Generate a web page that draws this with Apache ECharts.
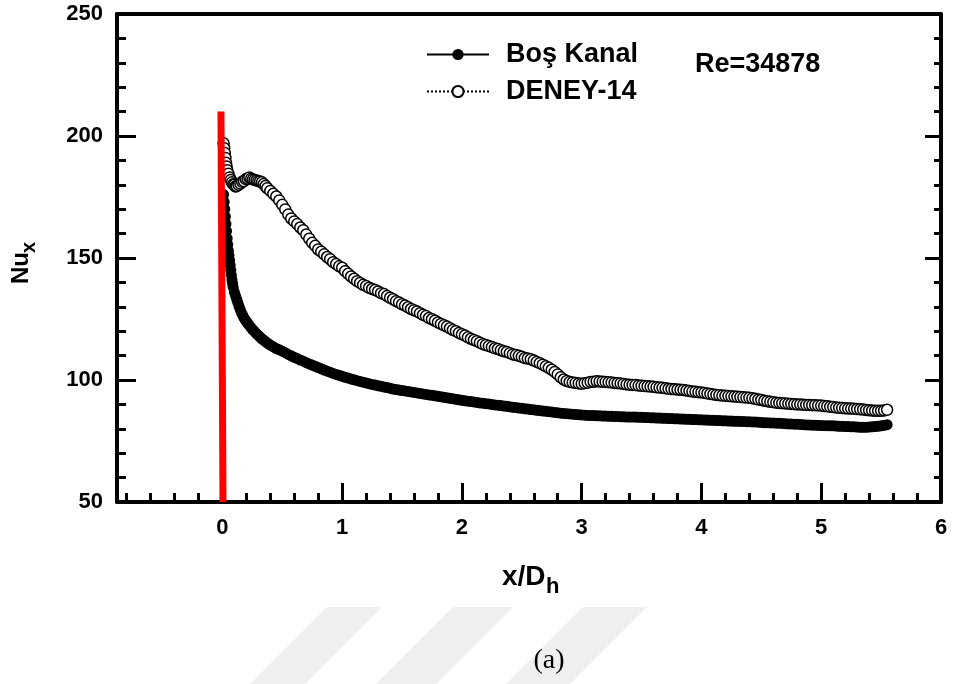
<!DOCTYPE html>
<html>
<head>
<meta charset="utf-8">
<script src="https://cdn.jsdelivr.net/npm/echarts@6/dist/echarts.min.js"></script>
<style>
html,body{margin:0;padding:0;background:#fff;}
#chart{width:954px;height:684px;}
</style>
</head>
<body>
<div id="chart"></div>
<script>
// ---- Data ----
var seriesNames = ['Boş Kanal', 'DENEY-14'];
var xTickValues = [0, 1, 2, 3, 4, 5, 6];
var xMinorTickValues = [-0.8, -0.6, -0.4, -0.2, 0.2, 0.4, 0.6, 0.8, 1.2, 1.4, 1.6, 1.8, 2.2, 2.4, 2.6, 2.8,
  3.2, 3.4, 3.6, 3.8, 4.2, 4.4, 4.6, 4.8, 5.2, 5.4, 5.6, 5.8];
var yTickValues = [50, 100, 150, 200, 250];

// [x/Dh, Nu_x] pairs
var bosKanal = [
  [0.01,176],[0.015,173],[0.02,170],[0.025,167],[0.03,164],[0.035,161],[0.04,158],[0.045,155.5],[0.05,153],
  [0.055,151],[0.06,149],[0.065,147],[0.07,145],[0.075,143],[0.08,141],[0.085,139.5],[0.09,138],[0.10,136],
  [0.11,134.5],[0.12,133],[0.13,131.5],[0.14,130],[0.15,128.7],[0.16,127.5],[0.17,126.5],[0.18,125.5],[0.19,124.7],
  [0.20,124],[0.21,123.3],[0.22,122.7],[0.235,121.7],[0.25,120.8],[0.265,120],[0.28,119.2],[0.295,118.5],[0.31,117.8],
  [0.325,117.1],[0.34,116.5],[0.355,115.9],[0.37,115.3],[0.385,114.8],[0.40,114.3],[0.425,113.6],[0.45,112.9],
  [0.475,112.4],[0.50,111.8],[0.525,111.2],[0.55,110.5],[0.575,109.9],[0.60,109.3],[0.625,108.8],[0.65,108.2],
  [0.675,107.7],[0.70,107.1],[0.725,106.6],[0.75,106.1],[0.775,105.6],[0.80,105.1],[0.825,104.6],[0.85,104.1],
  [0.875,103.6],[0.90,103.2],[0.925,102.7],[0.95,102.3],[0.975,101.9],[1.00,101.5],[1.025,101.1],[1.05,100.8],
  [1.075,100.4],[1.10,100.1],[1.125,99.7],[1.15,99.4],[1.175,99.1],[1.20,98.8],[1.225,98.5],[1.25,98.2],[1.275,97.9],
  [1.30,97.6],[1.325,97.4],[1.35,97.1],[1.375,96.9],[1.40,96.6],[1.425,96.3],[1.45,96.1],[1.475,95.9],[1.50,95.7],
  [1.525,95.5],[1.55,95.3],[1.575,95.1],[1.60,94.9],[1.625,94.7],[1.65,94.5],[1.675,94.3],[1.70,94.1],[1.725,93.9],
  [1.75,93.7],[1.775,93.5],[1.80,93.3],[1.825,93.1],[1.85,92.9],[1.875,92.7],[1.90,92.5],[1.925,92.3],[1.95,92.1],
  [1.975,91.9],[2.00,91.7],[2.025,91.5],[2.05,91.3],[2.075,91.2],[2.10,91.0],[2.125,90.8],[2.15,90.6],[2.175,90.5],
  [2.20,90.3],[2.225,90.2],[2.25,90.0],[2.275,89.8],[2.30,89.7],[2.325,89.5],[2.35,89.3],[2.375,89.2],[2.40,89.0],
  [2.425,88.8],[2.45,88.7],[2.475,88.5],[2.50,88.4],[2.525,88.2],[2.55,88.1],[2.575,87.9],[2.60,87.8],[2.625,87.6],
  [2.65,87.5],[2.675,87.3],[2.70,87.2],[2.725,87.0],[2.75,86.9],[2.775,86.7],[2.80,86.6],[2.825,86.4],[2.85,86.3],
  [2.875,86.2],[2.90,86.1],[2.925,86.0],[2.95,85.9],[2.975,85.8],[3.00,85.7],[3.025,85.6],[3.05,85.5],[3.075,85.5],
  [3.10,85.4],[3.125,85.3],[3.15,85.3],[3.175,85.2],[3.20,85.2],[3.225,85.1],[3.25,85.1],[3.275,85.0],[3.30,85.0],
  [3.325,84.9],[3.35,84.9],[3.375,84.8],[3.40,84.8],[3.425,84.8],[3.45,84.8],[3.475,84.7],[3.50,84.7],[3.525,84.6],
  [3.55,84.6],[3.575,84.5],[3.60,84.5],[3.625,84.4],[3.65,84.4],[3.675,84.3],[3.70,84.3],[3.725,84.2],[3.75,84.2],
  [3.775,84.1],[3.80,84.1],[3.825,84.0],[3.85,84.0],[3.875,83.9],[3.90,83.9],[3.925,83.8],[3.95,83.8],[3.975,83.7],
  [4.00,83.7],[4.025,83.6],[4.05,83.6],[4.075,83.5],[4.10,83.5],[4.125,83.4],[4.15,83.4],[4.175,83.3],[4.20,83.3],
  [4.225,83.2],[4.25,83.2],[4.275,83.1],[4.30,83.1],[4.325,83.0],[4.35,83.0],[4.375,82.9],[4.40,82.9],[4.425,82.8],
  [4.45,82.8],[4.475,82.7],[4.50,82.6],[4.525,82.5],[4.55,82.5],[4.575,82.4],[4.60,82.4],[4.625,82.3],[4.65,82.3],
  [4.675,82.2],[4.70,82.1],[4.725,82.0],[4.75,82.0],[4.775,81.9],[4.80,81.9],[4.825,81.8],[4.85,81.7],[4.875,81.6],
  [4.90,81.6],[4.925,81.5],[4.95,81.5],[4.975,81.4],[5.00,81.4],[5.025,81.3],[5.05,81.3],[5.075,81.2],[5.10,81.2],
  [5.125,81.1],[5.15,81.0],[5.175,81.0],[5.20,80.9],[5.225,80.9],[5.25,80.8],[5.275,80.8],[5.30,80.7],[5.325,80.6],
  [5.35,80.6],[5.375,80.6],[5.40,80.7],[5.425,80.8],[5.45,80.9],[5.475,81.0],[5.50,81.2],[5.525,81.4],[5.55,81.7]
];

var deney14 = [
  [0.01,197],[0.015,195],[0.02,193],[0.025,191],[0.03,189],[0.035,187.5],[0.04,186],[0.05,184.5],[0.06,183],
  [0.07,182],[0.08,181],[0.09,180.2],[0.10,180],[0.11,179.3],[0.12,179.5],[0.135,180],[0.15,180.5],[0.165,181.2],
  [0.18,181.5],[0.195,182.3],[0.21,182.5],[0.225,183],[0.24,182.5],[0.255,182.2],[0.27,182],[0.285,181.8],[0.30,181.5],
  [0.315,181.4],[0.33,181],[0.345,180.3],[0.36,179.5],[0.375,178.6],[0.40,177.5],[0.425,176.3],[0.45,175.2],
  [0.475,173.6],[0.50,171.8],[0.525,169.9],[0.55,167.8],[0.575,166.2],[0.60,165],[0.625,163.9],[0.65,162.5],
  [0.675,161.4],[0.70,159.6],[0.725,157.9],[0.75,156.2],[0.775,155.0],[0.80,153.5],[0.825,152.6],[0.85,151.5],
  [0.875,150.4],[0.90,149.5],[0.925,148.3],[0.95,147.5],[0.975,146.6],[1.00,146],[1.025,144.6],[1.05,143.5],
  [1.075,142.4],[1.10,141.5],[1.125,140.5],[1.15,139.8],[1.175,139.0],[1.20,138.5],[1.225,137.8],[1.25,137.3],
  [1.275,136.9],[1.30,136.3],[1.325,135.6],[1.35,135.2],[1.375,134.4],[1.40,133.7],[1.425,133.1],[1.45,132.3],
  [1.475,131.8],[1.50,131.0],[1.525,130.5],[1.55,129.8],[1.575,129.1],[1.60,128.6],[1.625,128.1],[1.65,127.4],
  [1.675,126.7],[1.70,126.2],[1.725,125.4],[1.75,124.9],[1.775,124.3],[1.80,123.6],[1.825,123.0],[1.85,122.4],
  [1.875,121.9],[1.90,121.2],[1.925,120.5],[1.95,120.0],[1.975,119.3],[2.00,118.7],[2.025,118.2],[2.05,117.5],
  [2.075,116.9],[2.10,116.4],[2.125,115.9],[2.15,115.3],[2.175,114.7],[2.20,114.3],[2.225,113.9],[2.25,113.5],
  [2.275,113.0],[2.30,112.7],[2.325,112.2],[2.35,111.8],[2.375,111.5],[2.40,111.0],[2.425,110.5],[2.45,110.2],
  [2.475,109.9],[2.50,109.5],[2.525,109.0],[2.55,108.8],[2.575,108.5],[2.60,108.0],[2.625,107.4],[2.65,106.9],
  [2.675,106.3],[2.70,105.6],[2.725,105.0],[2.75,104.2],[2.775,103.3],[2.80,102.3],[2.825,101.1],[2.85,100.2],
  [2.875,99.6],[2.90,99.2],[2.925,99.0],[2.95,98.8],[2.975,98.6],[3.00,98.5],[3.025,98.7],[3.05,98.9],[3.075,99.2],
  [3.10,99.3],[3.125,99.5],[3.15,99.4],[3.175,99.3],[3.20,99.2],[3.225,99.1],[3.25,99.0],[3.275,98.8],[3.30,98.7],
  [3.325,98.6],[3.35,98.4],[3.375,98.2],[3.40,98.1],[3.425,98.0],[3.45,97.9],[3.475,97.7],[3.50,97.6],[3.525,97.5],
  [3.55,97.4],[3.575,97.3],[3.60,97.2],[3.625,97.0],[3.65,96.9],[3.675,96.8],[3.70,96.6],[3.725,96.4],[3.75,96.3],
  [3.775,96.2],[3.80,96.1],[3.825,96.0],[3.85,95.9],[3.875,95.7],[3.90,95.5],[3.925,95.3],[3.95,95.2],[3.975,95.0],
  [4.00,94.9],[4.025,94.7],[4.05,94.5],[4.075,94.3],[4.10,94.1],[4.125,93.9],[4.15,93.8],[4.175,93.6],[4.20,93.5],
  [4.225,93.4],[4.25,93.3],[4.275,93.2],[4.30,93.1],[4.325,93.0],[4.35,92.9],[4.375,92.8],[4.40,92.7],[4.425,92.5],
  [4.45,92.3],[4.475,92.0],[4.50,91.8],[4.525,91.5],[4.55,91.3],[4.575,91.1],[4.60,90.9],[4.625,90.7],[4.65,90.6],
  [4.675,90.5],[4.70,90.4],[4.725,90.3],[4.75,90.2],[4.775,90.1],[4.80,90.0],[4.825,90.0],[4.85,89.9],[4.875,89.8],
  [4.90,89.8],[4.925,89.7],[4.95,89.7],[4.975,89.6],[5.00,89.5],[5.025,89.3],[5.05,89.2],[5.075,89.0],[5.10,88.9],
  [5.125,88.7],[5.15,88.6],[5.175,88.5],[5.20,88.4],[5.225,88.3],[5.25,88.3],[5.275,88.2],[5.30,88.1],[5.325,88.0],
  [5.35,87.9],[5.375,87.7],[5.40,87.6],[5.425,87.5],[5.45,87.4],[5.475,87.4],[5.50,87.4],[5.525,87.5],[5.55,87.8]
];

var redLineX = [-0.012, 0.005];
var redLineY = [210, 50];

// ---- Chart ----
function zip(xs, ys) { return xs.map(function (x, i) { return [x, ys[i]]; }); }

var FONT = '"Liberation Sans", Arial, Helvetica, sans-serif';
var chart = echarts.init(document.getElementById('chart'), null, { renderer: 'canvas' });

var axisLineStyle = { color: '#000', width: 4 };
var tickStyle = { color: '#000', width: 3 };

var option = {
  backgroundColor: '#fff',
  animation: false,
  grid: { left: 117, right: 13, top: 14, bottom: 182, containLabel: false },
  legend: {
    data: seriesNames,
    orient: 'vertical',
    left: 426,
    top: 41,
    padding: 0,
    itemWidth: 62,
    itemHeight: 14,
    itemGap: 10,
    textStyle: { fontFamily: FONT, fontSize: 27, fontWeight: 'bold', color: '#000', padding: [0, 0, 0, 12] },
    selectedMode: false
  },
  xAxis: [
    {
      type: 'value', min: -0.88, max: 6, position: 'bottom',
      axisLine: { show: true, onZero: false, lineStyle: axisLineStyle },
      axisTick: { show: true, inside: true, length: 19, lineStyle: tickStyle, customValues: xTickValues },
      axisLabel: { show: true, customValues: xTickValues, margin: 15, fontFamily: FONT, fontSize: 22, fontWeight: 'bold', color: '#000' },
      splitLine: { show: false }
    },
    {
      type: 'value', min: -0.88, max: 6, position: 'bottom',
      axisLine: { show: false, onZero: false },
      axisTick: { show: true, inside: true, length: 9, lineStyle: tickStyle, customValues: xMinorTickValues },
      axisLabel: { show: false },
      splitLine: { show: false }
    },
    {
      type: 'value', min: -0.88, max: 6, position: 'top',
      axisLine: { show: true, onZero: false, lineStyle: axisLineStyle },
      axisTick: { show: false },
      axisLabel: { show: false },
      splitLine: { show: false }
    }
  ],
  yAxis: [
    {
      type: 'value', min: yTickValues[0], max: yTickValues[yTickValues.length - 1], interval: 50, position: 'left',
      axisLine: { show: true, onZero: false, lineStyle: axisLineStyle },
      axisTick: { show: true, inside: true, length: 19, lineStyle: tickStyle },
      minorTick: { show: true, splitNumber: 5, length: 9, lineStyle: tickStyle },
      axisLabel: { show: true, margin: 14, fontFamily: FONT, fontSize: 22, fontWeight: 'bold', color: '#000' },
      splitLine: { show: false },
      minorSplitLine: { show: false }
    },
    {
      type: 'value', min: yTickValues[0], max: yTickValues[yTickValues.length - 1], interval: 50, position: 'right',
      axisLine: { show: true, onZero: false, lineStyle: axisLineStyle },
      axisTick: { show: true, inside: true, length: 16, lineStyle: tickStyle },
      minorTick: { show: true, splitNumber: 5, length: 7, lineStyle: tickStyle },
      axisLabel: { show: false },
      splitLine: { show: false },
      minorSplitLine: { show: false }
    }
  ],
  series: [
    {
      name: seriesNames[0],
      type: 'line',
      xAxisIndex: 0, yAxisIndex: 0,
      data: bosKanal,
      symbol: 'circle',
      symbolSize: 11,
      showSymbol: true,
      itemStyle: { color: '#000' },
      lineStyle: { color: '#000', width: 1.5 },
      z: 3
    },
    {
      name: seriesNames[1],
      type: 'line',
      xAxisIndex: 0, yAxisIndex: 0,
      data: deney14,
      symbol: 'circle',
      symbolSize: 11,
      showSymbol: true,
      itemStyle: { color: '#fff', borderColor: '#000', borderWidth: 1.5 },
      lineStyle: { color: '#000', width: 1, type: 'dotted' },
      z: 4
    },
    {
      name: 'red',
      type: 'line',
      xAxisIndex: 0, yAxisIndex: 0,
      data: zip(redLineX, redLineY),
      symbol: 'none',
      lineStyle: { color: '#ff0000', width: 7 },
      z: 10
    }
  ],
  graphic: [
    // faint watermark bands
    { type: 'polygon', z: -10, shape: { points: [[327, 607], [382, 607], [305, 684], [250, 684]] }, style: { fill: '#efefef' } },
    { type: 'polygon', z: -10, shape: { points: [[453, 607], [513, 607], [436, 684], [376, 684]] }, style: { fill: '#efefef' } },
    { type: 'polygon', z: -10, shape: { points: [[583, 607], [647, 607], [570, 684], [506, 684]] }, style: { fill: '#efefef' } },
    // annotation
    { type: 'text', left: 695, top: 51, style: { text: 'Re=34878', font: 'bold 27px ' + FONT, fill: '#000' } },
    // y axis title Nu_x (rotated)
    {
      type: 'group', x: 33, y: 284, rotation: Math.PI / 2,
      children: [
        { type: 'text', x: 0, y: 0, style: { text: 'Nu', font: 'bold 24px ' + FONT, fill: '#000', textAlign: 'left', textVerticalAlign: 'bottom' } },
        { type: 'text', x: 31, y: 6, style: { text: 'x', font: 'bold 20px ' + FONT, fill: '#000', textAlign: 'left', textVerticalAlign: 'bottom' } }
      ]
    },
    // x axis title x/D_h
    { type: 'text', x: 502, y: 591, style: { text: 'x/D', font: 'bold 28px ' + FONT, fill: '#000', textAlign: 'left', textVerticalAlign: 'bottom' } },
    { type: 'text', x: 546, y: 598, style: { text: 'h', font: 'bold 22px ' + FONT, fill: '#000', textAlign: 'left', textVerticalAlign: 'bottom' } },
    // caption
    { type: 'text', x: 549, y: 661, style: { text: '(a)', font: '28px "Liberation Serif", "Times New Roman", serif', fill: '#000', textAlign: 'center', textVerticalAlign: 'middle' } }
  ]
};
chart.setOption(option);
</script>
</body>
</html>
